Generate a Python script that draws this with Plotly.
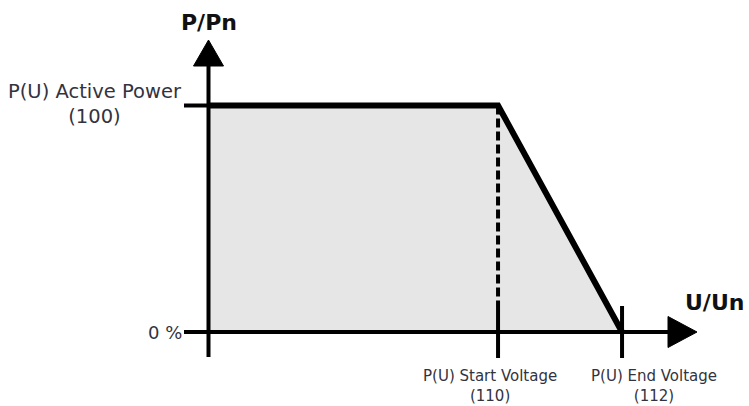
import plotly.graph_objects as go

# P(U) characteristic: active power limit versus grid voltage
u_origin = 105.33          # left end of the voltage axis in the diagram
u_start = 110              # P(U) start voltage (% of Un)
u_end = 112                # P(U) end voltage (% of Un)
p_active = 100             # P(U) active power (% of Pn)
p_zero = 0

curve_u = [u_origin, u_start, u_end]
curve_p = [p_active, p_active, p_zero]

y_tick_labels = ["P(U) Active Power<br>(100)", "0 %"]
x_tick_labels = ["P(U) Start Voltage<br>(110)", "P(U) End Voltage<br>(112)"]

# scale of the drawing: pixels per data unit on each axis
KX = 62.0
KY = 2.265
W, H = 749, 406
X0_PX, Y0_PX = 208.5, 332.0   # pixel position of (u_origin, 0)


def px_u(px):
    return px / KX


def px_p(px):
    return px / KY


x_range = [u_origin - px_u(X0_PX), u_origin + px_u(W - X0_PX)]
y_range = [p_zero - px_p(H - Y0_PX), p_zero + px_p(Y0_PX)]

AX_W = 4
TXT = "#333340"
FONT = "DejaVu Sans"

fig = go.Figure()

# shaded operating area under the curve
fig.add_trace(go.Scatter(
    x=curve_u + [u_origin], y=curve_p + [p_zero],
    mode="lines", fill="toself", fillcolor="#e6e6e6",
    line=dict(width=0), hoverinfo="skip"))

# dashed marker of the start voltage
fig.add_trace(go.Scatter(
    x=[u_start, u_start], y=[p_active, p_zero + px_p(26)],
    mode="lines", line=dict(color="black", width=4, dash="9px,4px"),
    hoverinfo="skip"))

# vertical axis with arrow
fig.add_trace(go.Scatter(
    x=[u_origin, u_origin], y=[p_zero - px_p(25), p_zero + px_p(Y0_PX - 64)],
    mode="lines", line=dict(color="black", width=AX_W), hoverinfo="skip"))
fig.add_trace(go.Scatter(
    x=[u_origin - px_u(15), u_origin, u_origin + px_u(15), u_origin - px_u(15)],
    y=[p_zero + px_p(Y0_PX - 66)] + [p_zero + px_p(Y0_PX - 40)] + [p_zero + px_p(Y0_PX - 66)] * 2,
    mode="lines", fill="toself", fillcolor="black",
    line=dict(color="black", width=1), hoverinfo="skip"))

# horizontal axis with arrow
fig.add_trace(go.Scatter(
    x=[u_origin - px_u(24.5), u_origin + px_u(670 - X0_PX)], y=[p_zero, p_zero],
    mode="lines", line=dict(color="black", width=AX_W), hoverinfo="skip"))
fig.add_trace(go.Scatter(
    x=[u_origin + px_u(668 - X0_PX), u_origin + px_u(697 - X0_PX),
       u_origin + px_u(668 - X0_PX), u_origin + px_u(668 - X0_PX)],
    y=[p_zero + px_p(15.5), p_zero, p_zero - px_p(15.5), p_zero + px_p(15.5)],
    mode="lines", fill="toself", fillcolor="black",
    line=dict(color="black", width=1), hoverinfo="skip"))

# tick at the active power level
fig.add_trace(go.Scatter(
    x=[u_origin - px_u(24.5), u_origin], y=[p_active, p_active],
    mode="lines", line=dict(color="black", width=AX_W), hoverinfo="skip"))

# ticks at start and end voltage
for u in (u_start, u_end):
    fig.add_trace(go.Scatter(
        x=[u, u], y=[p_zero + px_p(26), p_zero - px_p(26)],
        mode="lines", line=dict(color="black", width=AX_W), hoverinfo="skip"))

# power limit curve
fig.add_trace(go.Scatter(
    x=curve_u, y=curve_p, mode="lines",
    line=dict(color="black", width=6), hoverinfo="skip"))

annotations = [
    dict(x=u_origin, y=p_zero + px_p(Y0_PX - 22), text="<b>P/Pn</b>",
         xanchor="center", yanchor="middle", font=dict(size=22, color="#111111")),
    dict(x=u_origin + px_u(683 - X0_PX), y=p_zero + px_p(Y0_PX - 302), text="<b>U/Un</b>",
         xanchor="left", yanchor="middle", font=dict(size=22, color="#111111")),
    dict(x=u_origin - px_u(X0_PX - 184), y=p_active + px_p(2), text=y_tick_labels[0],
         xanchor="right", yanchor="middle", align="center",
         font=dict(size=19.5, color=TXT)),
    dict(x=u_origin - px_u(X0_PX - 184), y=p_zero, text=y_tick_labels[1],
         xanchor="right", yanchor="middle", font=dict(size=18, color=TXT)),
]
# bottom labels sit slightly off their ticks so they do not collide
for u, shift, label in zip((u_start, u_end), (-8, 32), x_tick_labels):
    annotations.append(dict(
        x=u + px_u(shift), y=p_zero - px_p(386 - Y0_PX), text=label,
        xanchor="center", yanchor="middle", align="center",
        font=dict(size=15, color=TXT)))

for a in annotations:
    a.update(xref="x", yref="y", showarrow=False)

fig.update_layout(
    width=W, height=H,
    margin=dict(l=0, r=0, t=0, b=0),
    paper_bgcolor="white", plot_bgcolor="white",
    showlegend=False,
    font=dict(family=FONT),
    xaxis=dict(range=x_range, visible=False, fixedrange=True),
    yaxis=dict(range=y_range, visible=False, fixedrange=True),
    annotations=annotations,
)

fig.write_html("out.html")
